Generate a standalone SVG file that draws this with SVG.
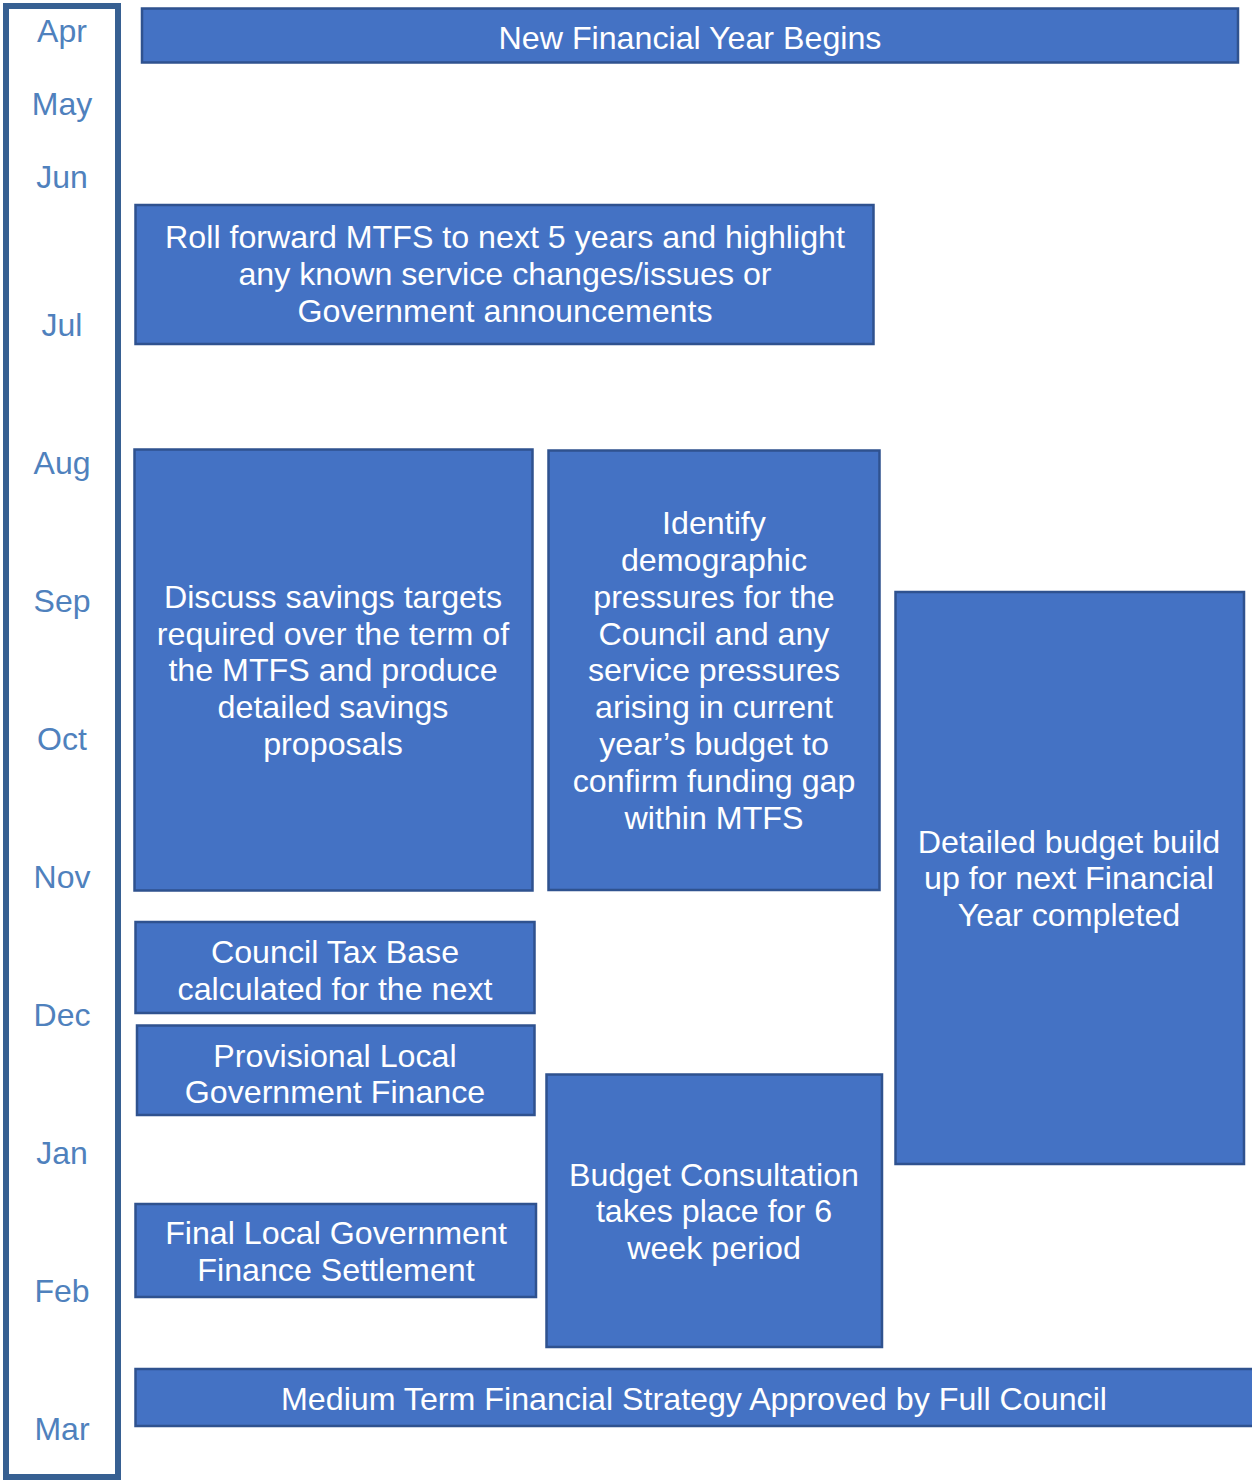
<svg xmlns="http://www.w3.org/2000/svg" width="1252" height="1482" viewBox="0 0 1252 1482">
  <style>
    .frame { fill: #ffffff; stroke: #376092; stroke-width: 6; }
    .month { font-family: "Liberation Sans", Arial, sans-serif; font-size: 32px; fill: #4f81bd; text-anchor: middle; }
    .box { fill: #4472c4; stroke: #2f528f; stroke-width: 2.5; }
    .label { font-family: "Liberation Sans", Arial, sans-serif; font-size: 32.2px; fill: #ffffff; text-anchor: middle; }
  </style>
  <rect width="1252" height="1482" fill="#ffffff"/>

  <!-- month timeline -->
  <g id="timeline">
    <rect class="frame" x="6" y="6" width="112" height="1471"/>
    <text class="month" x="62" y="42">Apr</text>
    <text class="month" x="62" y="115">May</text>
    <text class="month" x="62" y="188">Jun</text>
    <text class="month" x="62" y="336">Jul</text>
    <text class="month" x="62" y="474">Aug</text>
    <text class="month" x="62" y="612">Sep</text>
    <text class="month" x="62" y="750">Oct</text>
    <text class="month" x="62" y="888">Nov</text>
    <text class="month" x="62" y="1026">Dec</text>
    <text class="month" x="62" y="1164">Jan</text>
    <text class="month" x="62" y="1302">Feb</text>
    <text class="month" x="62" y="1440">Mar</text>
  </g>

  <g id="connectors"/>

  <g id="new-year">
    <rect class="box" x="142" y="8.5" width="1096" height="54"/>
    <text class="label" x="690" y="49">New Financial Year Begins</text>
  </g>

  <g id="roll-forward">
    <rect class="box" x="135.5" y="205" width="738" height="139"/>
    <text class="label" x="505" y="248">Roll forward MTFS to next 5 years and highlight</text>
    <text class="label" x="505" y="285">any known service changes/issues or</text>
    <text class="label" x="505" y="322">Government announcements</text>
  </g>

  <g id="savings">
    <rect class="box" x="134.5" y="449.5" width="398" height="441"/>
    <text class="label" x="333" y="608">Discuss savings targets</text>
    <text class="label" x="333" y="645">required over the term of</text>
    <text class="label" x="333" y="681">the MTFS and produce</text>
    <text class="label" x="333" y="718">detailed savings</text>
    <text class="label" x="333" y="755">proposals</text>
  </g>

  <g id="pressures">
    <rect class="box" x="548.5" y="450.5" width="331" height="439.5"/>
    <text class="label" x="714" y="534">Identify</text>
    <text class="label" x="714" y="571">demographic</text>
    <text class="label" x="714" y="608">pressures for the</text>
    <text class="label" x="714" y="645">Council and any</text>
    <text class="label" x="714" y="681">service pressures</text>
    <text class="label" x="714" y="718">arising in current</text>
    <text class="label" x="714" y="755">year’s budget to</text>
    <text class="label" x="714" y="792">confirm funding gap</text>
    <text class="label" x="714" y="829">within MTFS</text>
  </g>

  <g id="budget-build">
    <rect class="box" x="895.5" y="592" width="348.5" height="572"/>
    <text class="label" x="1069" y="853">Detailed budget build</text>
    <text class="label" x="1069" y="889">up for next Financial</text>
    <text class="label" x="1069" y="926">Year completed</text>
  </g>

  <g id="tax-base">
    <rect class="box" x="135.5" y="922" width="399" height="91"/>
    <text class="label" x="335" y="963">Council Tax Base</text>
    <text class="label" x="335" y="1000">calculated for the next</text>
  </g>

  <g id="provisional">
    <rect class="box" x="137" y="1025.5" width="397.5" height="89.5"/>
    <text class="label" x="335" y="1067">Provisional Local</text>
    <text class="label" x="335" y="1103">Government Finance</text>
  </g>

  <g id="consultation">
    <rect class="box" x="546.5" y="1074.5" width="335.5" height="272.5"/>
    <text class="label" x="714" y="1186">Budget Consultation</text>
    <text class="label" x="714" y="1222">takes place for 6</text>
    <text class="label" x="714" y="1259">week period</text>
  </g>

  <g id="final-settlement">
    <rect class="box" x="135.5" y="1204" width="400.5" height="93"/>
    <text class="label" x="336" y="1244">Final Local Government</text>
    <text class="label" x="336" y="1281">Finance Settlement</text>
  </g>

  <g id="mtfs-approved">
    <rect class="box" x="135.5" y="1369" width="1122" height="57"/>
    <text class="label" x="694" y="1410">Medium Term Financial Strategy Approved by Full Council</text>
  </g>
</svg>
